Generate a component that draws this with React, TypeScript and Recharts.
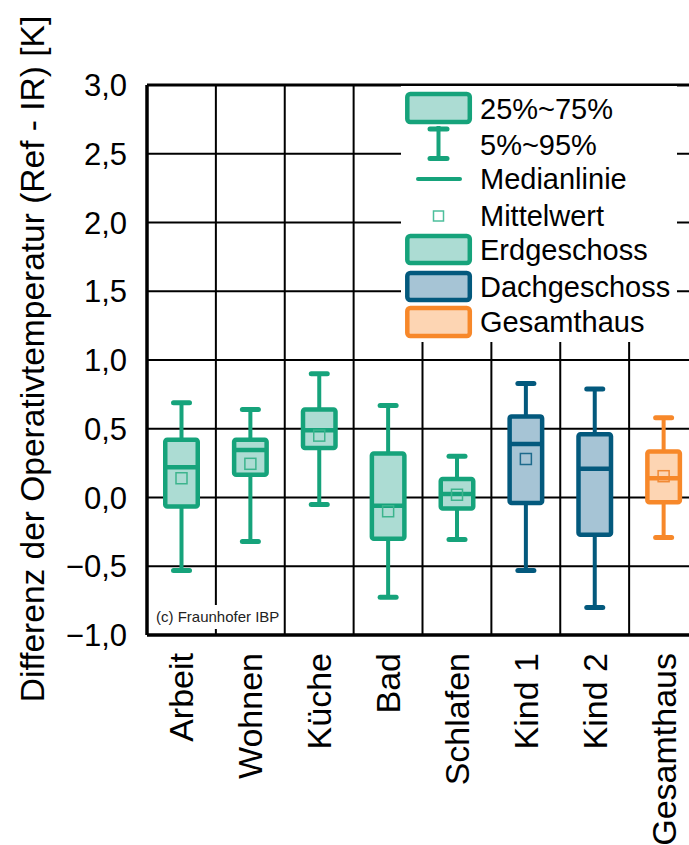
import React from 'react';
import { ComposedChart, Bar, XAxis, YAxis, CartesianGrid, ReferenceLine, Legend, Label } from 'recharts';

const categories = ['Arbeit', 'Wohnen', 'Küche', 'Bad', 'Schlafen', 'Kind 1', 'Kind 2', 'Gesamthaus'];
const groups = ['eg', 'eg', 'eg', 'eg', 'eg', 'dg', 'dg', 'ges'];
const p5 = [-0.53, -0.32, -0.05, -0.725, -0.305, -0.53, -0.8, -0.29];
const q1 = [-0.065, 0.165, 0.36, -0.3, -0.08, -0.04, -0.27, -0.035];
const median = [0.22, 0.345, 0.49, -0.06, 0.025, 0.39, 0.21, 0.14];
const q3 = [0.42, 0.42, 0.64, 0.32, 0.135, 0.59, 0.46, 0.335];
const p95 = [0.69, 0.64, 0.9, 0.67, 0.3, 0.83, 0.79, 0.58];
const mean: (number | null)[] = [0.14, 0.245, 0.45, -0.1, 0.02, 0.28, null, 0.155];

const yTicks = [-1, -0.5, 0, 0.5, 1, 1.5, 2, 2.5, 3];
const boundaries = [1, 2, 3, 4, 5, 6, 7];

const legendStats = ['25%~75%', '5%~95%', 'Medianlinie', 'Mittelwert'];
const legendGroups = ['Erdgeschoss', 'Dachgeschoss', 'Gesamthaus'];
const groupKeys = ['eg', 'dg', 'ges'];

const yLabel = 'Differenz der Operativtemperatur (Ref - IR) [K]';
const copyright = '(c) Fraunhofer IBP';

const palette: Record<string, { stroke: string; fill: string; mean: string }> = {
  eg: { stroke: '#16a37b', fill: '#acdcd3', mean: '#3cb48d' },
  dg: { stroke: '#03597d', fill: '#a6c4d5', mean: '#1d6a8c' },
  ges: { stroke: '#f7882a', fill: '#fdd5b3', mean: '#f08a36' },
};

const FONT = '"Liberation Sans", Arial, sans-serif';

const data = categories.map((name, i) => ({
  name,
  group: groups[i],
  p5: p5[i],
  q1: q1[i],
  median: median[i],
  q3: q3[i],
  p95: p95[i],
  mean: mean[i],
}));

const BoxShape = (props: any) => {
  const { x, y, width, height, payload } = props;
  const cx = x + width / 2;
  const top = Math.min(y, y + height);
  const bot = Math.max(y, y + height);
  const hi = payload.p95;
  const lo = payload.p5;
  const pix = (v: number) => top + ((hi - v) / (hi - lo)) * (bot - top);
  const c = palette[payload.group];
  const bw = 32.5;
  return (
    <g>
      <line x1={cx} x2={cx} y1={pix(hi)} y2={pix(lo)} stroke={c.stroke} strokeWidth={4} />
      <line x1={cx - 8} x2={cx + 8} y1={pix(hi)} y2={pix(hi)} stroke={c.stroke} strokeWidth={5} strokeLinecap="round" />
      <line x1={cx - 8} x2={cx + 8} y1={pix(lo)} y2={pix(lo)} stroke={c.stroke} strokeWidth={5} strokeLinecap="round" />
      <rect
        x={cx - bw / 2}
        y={pix(payload.q3)}
        width={bw}
        height={pix(payload.q1) - pix(payload.q3)}
        fill={c.fill}
        stroke={c.stroke}
        strokeWidth={4.5}
        rx={2}
      />
      <line x1={cx - bw / 2} x2={cx + bw / 2} y1={pix(payload.median)} y2={pix(payload.median)} stroke={c.stroke} strokeWidth={4.5} />
      {payload.mean !== null && (
        <rect x={cx - 5.5} y={pix(payload.mean) - 5.5} width={11} height={11} fill="none" stroke={c.mean} strokeWidth={1.5} />
      )}
    </g>
  );
};

const XTick = (props: any) => {
  const { x, y, payload } = props;
  return (
    <text
      x={x}
      y={y}
      dy={12}
      transform={`rotate(-90 ${x} ${y})`}
      textAnchor="end"
      fontSize={34}
      fontFamily={FONT}
      fill="#000"
    >
      {payload.value}
    </text>
  );
};

const fmt = (v: number) => v.toFixed(1).replace('.', ',').replace('-', '\u2212');

const YTick = (props: any) => {
  const { x, y, payload } = props;
  return (
    <text x={x} y={y} dy={11} textAnchor="end" fontSize={31} fontFamily={FONT} fill="#000">
      {fmt(payload.value)}
    </text>
  );
};

const LegendContent = () => {
  const eg = palette.eg;
  const textRows = [23, 59, 93, 130];
  const groupRows = [
    { y: 150, h: 27 },
    { y: 187, h: 27 },
    { y: 222, h: 28 },
  ];
  const groupText = [164, 201, 236];
  return (
    <svg width={276} height={256} style={{ display: 'block' }}>
      <rect x={0} y={0} width={276} height={256} fill="#fff" />
      <line x1={37.5} x2={37.5} y1={40} y2={72} stroke={eg.stroke} strokeWidth={4} />
      <line x1={29} x2={46} y1={43} y2={43} stroke={eg.stroke} strokeWidth={5} strokeLinecap="round" />
      <line x1={29} x2={46} y1={72.5} y2={72.5} stroke={eg.stroke} strokeWidth={5} strokeLinecap="round" />
      <rect x={6.3} y={8} width={62.5} height={28} rx={3} fill={eg.fill} stroke={eg.stroke} strokeWidth={4.5} />
      <line x1={17} x2={59} y1={93} y2={93} stroke={eg.stroke} strokeWidth={4} strokeLinecap="round" />
      <rect x={32.5} y={125} width={10} height={10} fill="#fff" stroke="#4dbf9c" strokeWidth={1.5} />
      {legendStats.map((t, i) => (
        <text key={t} x={79} y={textRows[i]} dy={10} fontSize={29} fontFamily={FONT} fill="#000">
          {t}
        </text>
      ))}
      {legendGroups.map((t, i) => {
        const c = palette[groupKeys[i]];
        return (
          <g key={t}>
            <rect x={6.3} y={groupRows[i].y} width={62.5} height={groupRows[i].h} rx={3} fill={c.fill} stroke={c.stroke} strokeWidth={4.5} />
            <text x={79} y={groupText[i]} dy={10} fontSize={29} fontFamily={FONT} fill="#000">
              {t}
            </text>
          </g>
        );
      })}
    </svg>
  );
};

const YLabelContent = (props: any) => {
  const vb = props.viewBox || { x: 0, y: 85, width: 147, height: 550 };
  const x = vb.x + 44;
  const y = vb.y + vb.height / 2 - 1;
  return (
    <text x={x} y={y} transform={`rotate(-90 ${x} ${y})`} textAnchor="middle" fontSize={33.5} fontFamily={FONT} fill="#000">
      {yLabel}
    </text>
  );
};

export default function App() {
  return (
    <div style={{ position: 'absolute', left: 0, top: 0, width: 689, height: 845, overflow: 'hidden', background: '#fff' }}>
      <ComposedChart
        width={720}
        height={845}
        data={data}
        margin={{ top: 85, right: 22, left: 0, bottom: 0 }}
        barCategoryGap={0}
      >
        <CartesianGrid xAxisId="num" vertical={false} stroke="#000" strokeWidth={2} />
        <XAxis
          xAxisId="cat"
          dataKey="name"
          type="category"
          height={210}
          tickLine={false}
          tickSize={0}
          tickMargin={18}
          axisLine={{ stroke: '#000', strokeWidth: 3.5 }}
          tick={<XTick />}
          interval={0}
        />
        <XAxis
          xAxisId="num"
          type="number"
          dataKey={() => 0}
          domain={[0, categories.length]}
          allowDataOverflow
          hide
        />
        <YAxis
          type="number"
          domain={[-1, 3]}
          ticks={yTicks}
          width={147}
          tickLine={false}
          tickSize={0}
          tickMargin={20}
          axisLine={{ stroke: '#000', strokeWidth: 3.5 }}
          tick={<YTick />}
          interval={0}
        >
          <Label content={<YLabelContent />} />
        </YAxis>
        {boundaries.map((b) => (
          <ReferenceLine key={b} xAxisId="num" x={b} stroke="#000" strokeWidth={2} />
        ))}
        <ReferenceLine xAxisId="num" y={3} stroke="#000" strokeWidth={3} />
        <ReferenceLine xAxisId="num" x={categories.length} stroke="#000" strokeWidth={3} />
        <Bar
          xAxisId="cat"
          dataKey={(d: any) => [d.p5, d.p95]}
          barSize={33}
          shape={<BoxShape />}
          isAnimationActive={false}
        />
        <Legend
          layout="vertical"
          align="center"
          verticalAlign="middle"
          content={<LegendContent />}
          wrapperStyle={{ position: 'absolute', left: 401, top: 86, width: 276, height: 256, margin: 0, padding: 0 }}
        />
      </ComposedChart>
      <div
        style={{
          position: 'absolute',
          left: 151,
          top: 605,
          width: 132,
          height: 24,
          background: '#fff',
          fontFamily: FONT,
          fontSize: 15,
          lineHeight: '24px',
          color: '#222',
          paddingLeft: 5,
          boxSizing: 'border-box',
          whiteSpace: 'nowrap',
        }}
      >
        {copyright}
      </div>
    </div>
  );
}
